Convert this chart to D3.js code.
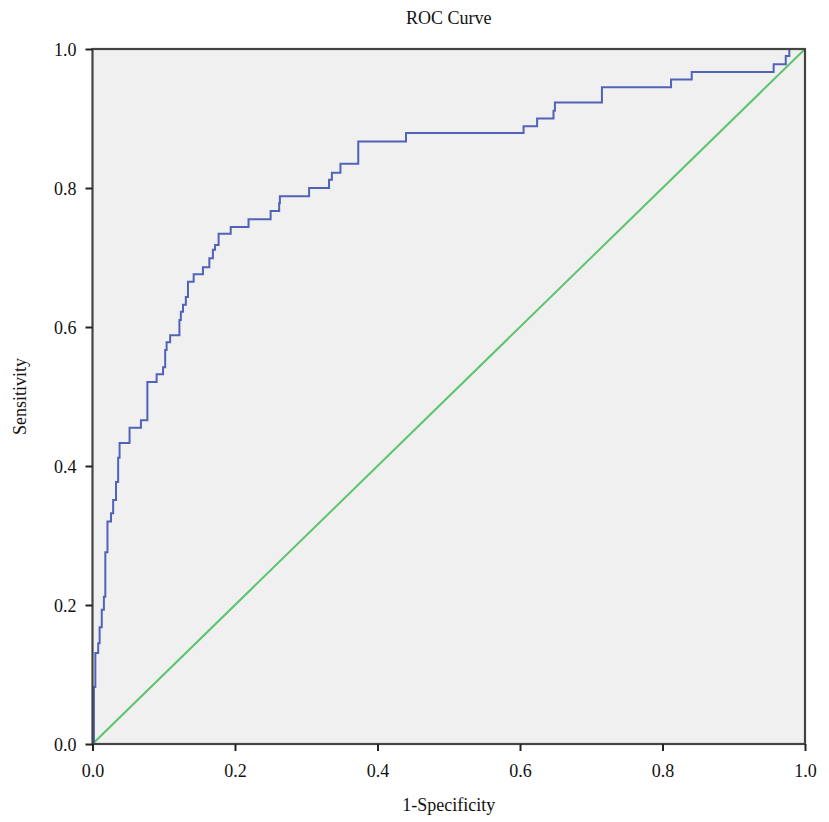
<!DOCTYPE html>
<html>
<head>
<meta charset="utf-8">
<script src="https://cdn.jsdelivr.net/npm/d3@7"></script>
<style>
    body { margin: 0; background: #fff; }
    svg text { font-family: "Liberation Serif", "Times New Roman", serif; fill: #111; }
</style>
</head>
<body>
<svg width="829" height="822"></svg>
<script>
// ROC staircase: x where the curve rises, sensitivity after the rise
var fpr = [0, 0.002, 0.004, 0.008, 0.010, 0.013, 0.016, 0.018, 0.021, 0.026, 0.029,
    0.033, 0.036, 0.038, 0.052, 0.068, 0.077, 0.090, 0.099, 0.102, 0.104, 0.109,
    0.122, 0.124, 0.127, 0.131, 0.134, 0.142, 0.155, 0.164, 0.169, 0.172, 0.177,
    0.194, 0.219, 0.250, 0.262, 0.263, 0.304, 0.332, 0.336, 0.348, 0.373, 0.440,
    0.605, 0.624, 0.647, 0.649, 0.715, 0.812, 0.841, 0.956, 0.973, 0.978, 1.0];
var tpr = [0, 0.082, 0.131, 0.145, 0.168, 0.193, 0.212, 0.276, 0.320, 0.332, 0.351,
    0.377, 0.412, 0.433, 0.455, 0.466, 0.521, 0.532, 0.542, 0.567, 0.578, 0.588,
    0.610, 0.622, 0.632, 0.643, 0.665, 0.676, 0.686, 0.699, 0.711, 0.718, 0.734,
    0.744, 0.755, 0.767, 0.778, 0.788, 0.800, 0.812, 0.822, 0.835, 0.867, 0.879,
    0.889, 0.900, 0.911, 0.923, 0.945, 0.956, 0.967, 0.978, 0.990, 1.0, 1.0];
var refLine = [[0, 0], [1, 1]];
var tickVals = [0, 0.2, 0.4, 0.6, 0.8, 1.0];

var title = "ROC Curve",
    xTitle = "1-Specificity",
    yTitle = "Sensitivity";

var svg = d3.select("svg");
var pLeft = 92.5, pRight = 805, pTop = 49, pBottom = 744;

var x = d3.scaleLinear().domain([0, 1]).range([pLeft, pRight]);
var y = d3.scaleLinear().domain([0, 1]).range([pBottom, pTop]);

// plot background
svg.append("rect")
    .attr("x", pLeft).attr("y", pTop)
    .attr("width", pRight - pLeft).attr("height", pBottom - pTop)
    .attr("fill", "#f0f0f0");

// diagonal reference
svg.append("path")
    .datum(refLine)
    .attr("d", d3.line().x((d) => x(d[0])).y((d) => y(d[1])))
    .attr("fill", "none")
    .attr("stroke", "#5cc46c")
    .attr("stroke-width", 2);

// roc curve
var pts = fpr.map((v, i) => [v, tpr[i]]);
svg.append("path")
    .datum(pts)
    .attr("d", d3.line().curve(d3.curveStepAfter).x((d) => x(d[0])).y((d) => y(d[1])))
    .attr("fill", "none")
    .attr("stroke", "#5063b8")
    .attr("stroke-width", 2);

// frame
svg.append("rect")
    .attr("x", pLeft).attr("y", pTop)
    .attr("width", pRight - pLeft).attr("height", pBottom - pTop)
    .attr("fill", "none")
    .attr("stroke", "#444")
    .attr("stroke-width", 2.2);

var xAxis = svg.append("g")
    .attr("transform", "translate(0," + pBottom + ")")
    .call(d3.axisBottom(x).tickValues(tickVals).tickFormat(d3.format(".1f")).tickSize(7));
var yAxis = svg.append("g")
    .attr("transform", "translate(" + pLeft + ",0)")
    .call(d3.axisLeft(y).tickValues(tickVals).tickFormat(d3.format(".1f")).tickSize(7));

[xAxis, yAxis].forEach((g) => {
    g.select(".domain").remove();
    g.selectAll("line").attr("stroke", "#222").attr("stroke-width", 2);
    g.selectAll("text").attr("font-size", 18).attr("fill", "#111")
        .style("font-family", '"Liberation Serif", serif');
});
xAxis.selectAll("text").attr("dy", "1.25em");
yAxis.selectAll("text").attr("x", -16).attr("dy", "0.35em");

svg.append("text")
    .attr("x", (pLeft + pRight) / 2).attr("y", 24)
    .attr("text-anchor", "middle").attr("font-size", 18)
    .text(title);

svg.append("text")
    .attr("x", (pLeft + pRight) / 2).attr("y", 811)
    .attr("text-anchor", "middle").attr("font-size", 18)
    .text(xTitle);

svg.append("text")
    .attr("transform", "translate(26," + (pTop + pBottom) / 2 + ") rotate(-90)")
    .attr("text-anchor", "middle").attr("font-size", 18)
    .text(yTitle);
</script>
</body>
</html>
